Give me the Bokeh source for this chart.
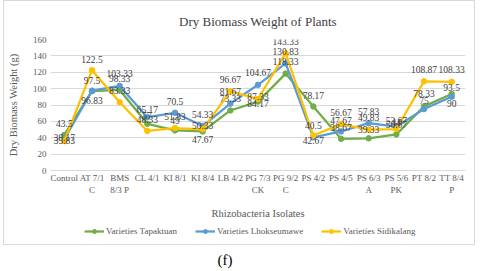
from bokeh.plotting import figure
from bokeh.models import (FactorRange, Range1d, ColumnDataSource, Legend, LegendItem,
                          Div, FixedTicker)
from bokeh.layouts import column
from bokeh.embed import file_html
from bokeh.resources import INLINE

# ---------------- data ----------------
isolates = ["Control", "AT 7/1\nC", "BMS\n8/3 P", "CL 4/1", "KI 8/1", "KI 8/4",
            "LB 4/2", "PG 7/3\nCK", "PG 9/2\nC", "PS 4/2", "PS 4/5", "PS 6/3\nA",
            "PS 5/6\nPK", "PT 8/2", "TT 8/4\nP"]

tapaktuan = [43.5, 96.83, 98.33, 57, 49, 47.67, 73.33, 84.17, 118.33, 78.17,
             38.67, 39.33, 44, 78.33, 93.5]
lhokseumawe = [38.17, 97.5, 103.33, 65.17, 70.5, 54.33, 81.67, 104.67, 130.83,
               40.5, 47.67, 57.83, 53.67, 75, 90]
sidikalang = [35.83, 122.5, 83.33, 48.33, 51.83, 50.33, 96.67, 87.33, 143.33,
              42.67, 56.67, 49.83, 50.67, 108.87, 108.33]

y_ticks = [0, 20, 40, 60, 80, 100, 120, 140, 160]

# label placement (screen px, negative = up)
tap_dy = [-11, 9, -11, -8, -10, 8, -12, 2, -12, -11, -11, -9, -12, -13, -6]
lho_dy = [-2, -10, -12, -8, -11, -12, -12, -12, -12, -12, -11, -12, -6, -9, 7]
sid_dy = [-1, -11, -12, -11, -12, -4, -12, -2, -12, 5, -12, -12, -5, -12, -12]

series = [
    ("Varieties Tapaktuan", tapaktuan, tap_dy, "#70AD47"),
    ("Varieties Lhokseumawe", lhokseumawe, lho_dy, "#5B9BD5"),
    ("Varieties Sidikalang", sidikalang, sid_dy, "#FFC000"),
]

SERIF = "Liberation Serif"
GRAY = "#595959"

p = figure(width=470, height=220, x_range=FactorRange(*isolates, range_padding=0),
           y_range=Range1d(0, 160), output_backend="svg", toolbar_location=None,
           min_border_left=45, min_border_right=9, min_border_top=30, min_border_bottom=49,
           title="Dry Biomass Weight of Plants")
p.outline_line_color = None
p.title.align = "center"
p.title.offset = -17
p.title.text_font = SERIF
p.title.text_font_size = "13px"
p.title.text_font_style = "normal"
p.title.text_color = "#404040"
p.title.standoff = 21

p.xgrid.grid_line_color = None
p.ygrid.grid_line_color = "#d9d9d9"
p.ygrid.grid_line_width = 1

p.yaxis.ticker = FixedTicker(ticks=y_ticks)
p.yaxis.axis_line_color = None
p.yaxis.major_label_standoff = 4
p.yaxis.axis_label = "Dry Biomass Weight (g)"
p.yaxis.axis_label_standoff = 11

p.xaxis.axis_line_color = "#d9d9d9"
p.xaxis.major_label_standoff = 2
p.xaxis.axis_label = "Rhizobacteria Isolates"
p.xaxis.axis_label_standoff = 10

for ax in (p.xaxis[0], p.yaxis[0]):
    ax.major_tick_line_color = None
    ax.minor_tick_line_color = None
    ax.major_tick_out = 0
    ax.major_tick_in = 0
    ax.minor_tick_out = 0
    ax.minor_tick_in = 0
    ax.major_label_text_font = SERIF
    ax.major_label_text_font_size = "9px"
    ax.major_label_text_color = GRAY
    ax.axis_label_text_font = SERIF
    ax.axis_label_text_font_size = "10.5px"
    ax.axis_label_text_font_style = "normal"
    ax.axis_label_text_color = GRAY

for name, vals, dys, col in series:
    src = ColumnDataSource(dict(x=isolates, y=vals))
    p.line("x", "y", source=src, line_color=col, line_width=2.25)
    p.scatter("x", "y", source=src, size=5.5, fill_color=col, line_color=col)

for name, vals, dys, col in series:
    src = ColumnDataSource(dict(x=isolates, y=vals,
                                t=[f"{v:g}" for v in vals], dy=dys))
    p.text("x", "y", text="t", source=src, y_offset="dy", text_align="center",
           text_baseline="middle", text_font_size="9.5px", text_color="#404040",
           text_font={"value": SERIF})

# legend strip (separate small figure; its series lie outside its visible range)
lg = figure(width=470, height=23, output_backend="svg", toolbar_location=None,
            x_range=FactorRange(*isolates), y_range=Range1d(-2, -1),
            x_axis_type=None, y_axis_type=None,
            min_border_left=0, min_border_right=0, min_border_top=0, min_border_bottom=0)
lg.grid.visible = False
lg.outline_line_color = None
items = []
for name, vals, dys, col in series:
    src = ColumnDataSource(dict(x=isolates, y=vals))
    ln = lg.line("x", "y", source=src, line_color=col, line_width=2.25)
    mk = lg.scatter("x", "y", source=src, size=5.5, fill_color=col, line_color=col)
    items.append(LegendItem(label=name, renderers=[ln, mk]))
legend = Legend(items=items, orientation="horizontal", location=(34, 8),
                glyph_width=20, glyph_height=10, label_text_font=SERIF,
                label_text_font_size="9px", label_text_color=GRAY,
                label_height=10, label_standoff=2, spacing=18, padding=0, margin=0,
                border_line_color=None, background_fill_alpha=0)
lg.add_layout(legend, "center")

chart = column(p, lg, spacing=0,
               styles={"border": "1px solid #d9d9d9", "margin-left": "3px"})

cap = Div(text="(f)", width=440, height=25,
          styles={"font-family": SERIF, "font-size": "15px", "text-align": "center",
                  "color": "#000000"})

layout = column(chart, cap, spacing=0)

with open("out.html", "w") as f:
    f.write(file_html(layout, INLINE))
